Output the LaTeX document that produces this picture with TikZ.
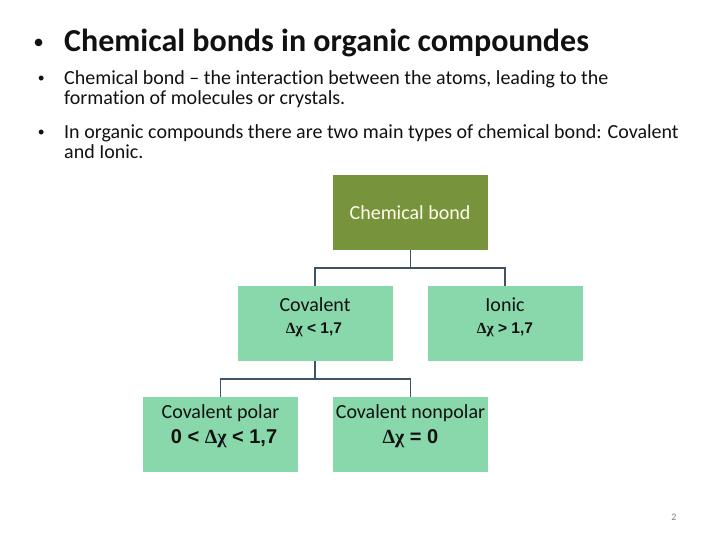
\documentclass[tikz,border=0pt]{standalone}
\usepackage{fontspec}
\setmainfont{Carlito}[Ligatures=CommonOff]
\newfontfamily\arialf{Liberation Sans}
\newfontfamily\greekf{Liberation Serif}
\definecolor{olive}{HTML}{77933C}
\definecolor{mint}{HTML}{88D8AB}
\definecolor{linec}{HTML}{3E5366}
\definecolor{txt}{HTML}{111111}
\tikzset{
  box/.style={fill=#1, draw=none, minimum width=155pt, minimum height=75pt, inner sep=0pt},
  conn/.style={draw=linec, line width=1.6pt},
  lab/.style={text=txt, inner sep=0pt, anchor=base, align=center},
  ln/.style={anchor=base west, inner sep=0pt, text=txt}
}
\begin{document}
\begin{tikzpicture}[x=1pt,y=-1pt]
\useasboundingbox (0,0) rectangle (720,540);
% title and bullets
\node[ln] (tb) at (34,52) {\fontsize{26}{30}\selectfont\arialf\bfseries •};
\node[ln] (title) at (64,52) {\fontsize{32}{36}\selectfont\bfseries Chemical bonds in organic compoundes};
\node[ln] (b1) at (38,85) {\fontsize{18}{20}\selectfont\arialf •};
\node[ln] (l1) at (64,85) {\fontsize{20}{22}\selectfont Chemical bond – the interaction between the atoms, leading to the};
\node[ln] (l2) at (64,105) {\fontsize{20}{22}\selectfont formation of molecules or crystals.};
\node[ln] (b2) at (38,139) {\fontsize{18}{20}\selectfont\arialf •};
\node[ln] (l3) at (64,139) {\fontsize{20}{22}\selectfont In organic compounds there are two main types of chemical bond: Covalent};
\node[ln] (l4) at (64,159) {\fontsize{20}{22}\selectfont and Ionic.};
% boxes
\node[box=olive] (cb) at (410.5,212.5) {};
\node[box=mint] (cov) at (315,323.5) {};
\node[box=mint] (ion) at (505,323.5) {};
\node[box=mint] (pol) at (220.5,434.5) {};
\node[box=mint] (non) at (410.5,434.5) {};
% box texts
\node[lab, text=white!92!yellow] (cbt) at (410,220) {\fontsize{20}{22}\selectfont Chemical bond};
\node[lab] (covt) at (315,311) {\fontsize{20}{22}\selectfont Covalent};
\node[lab] (covd) at (314,333) {\fontsize{15.5}{17}\selectfont\arialf\bfseries {\greekf\bfseries Δχ} < 1,7};
\node[lab] (iont) at (505,311) {\fontsize{20}{22}\selectfont Ionic};
\node[lab] (iond) at (505,333) {\fontsize{15.5}{17}\selectfont\arialf\bfseries {\greekf\bfseries Δχ} > 1,7};
\node[lab] (polt) at (220.5,418) {\fontsize{20}{22}\selectfont Covalent polar};
\node[lab] (pold) at (224,443) {\fontsize{20}{22}\selectfont\arialf\bfseries 0 < {\greekf\bfseries Δχ} < 1,7};
\node[lab] (nont) at (410.5,418) {\fontsize{20}{22}\selectfont Covalent nonpolar};
\node[lab] (nond) at (410.5,443) {\fontsize{20}{22}\selectfont\arialf\bfseries {\greekf\bfseries Δχ} = 0};
% connectors
\coordinate (j1) at (410.5,268);
\coordinate (j2) at (315,379);
\draw[conn] (cb.south) -- (j1);
\draw[conn] (j1) -| (cov.north);
\draw[conn] (j1) -| (ion.north);
\draw[conn] (cov.south) -- (j2);
\draw[conn] (j2) -| (pol.north);
\draw[conn] (j2) -| (non.north);
% page number
\node[anchor=base, inner sep=0pt, text=gray] (pg) at (674,520) {\fontsize{10}{12}\selectfont 2};
\end{tikzpicture}
\end{document}
